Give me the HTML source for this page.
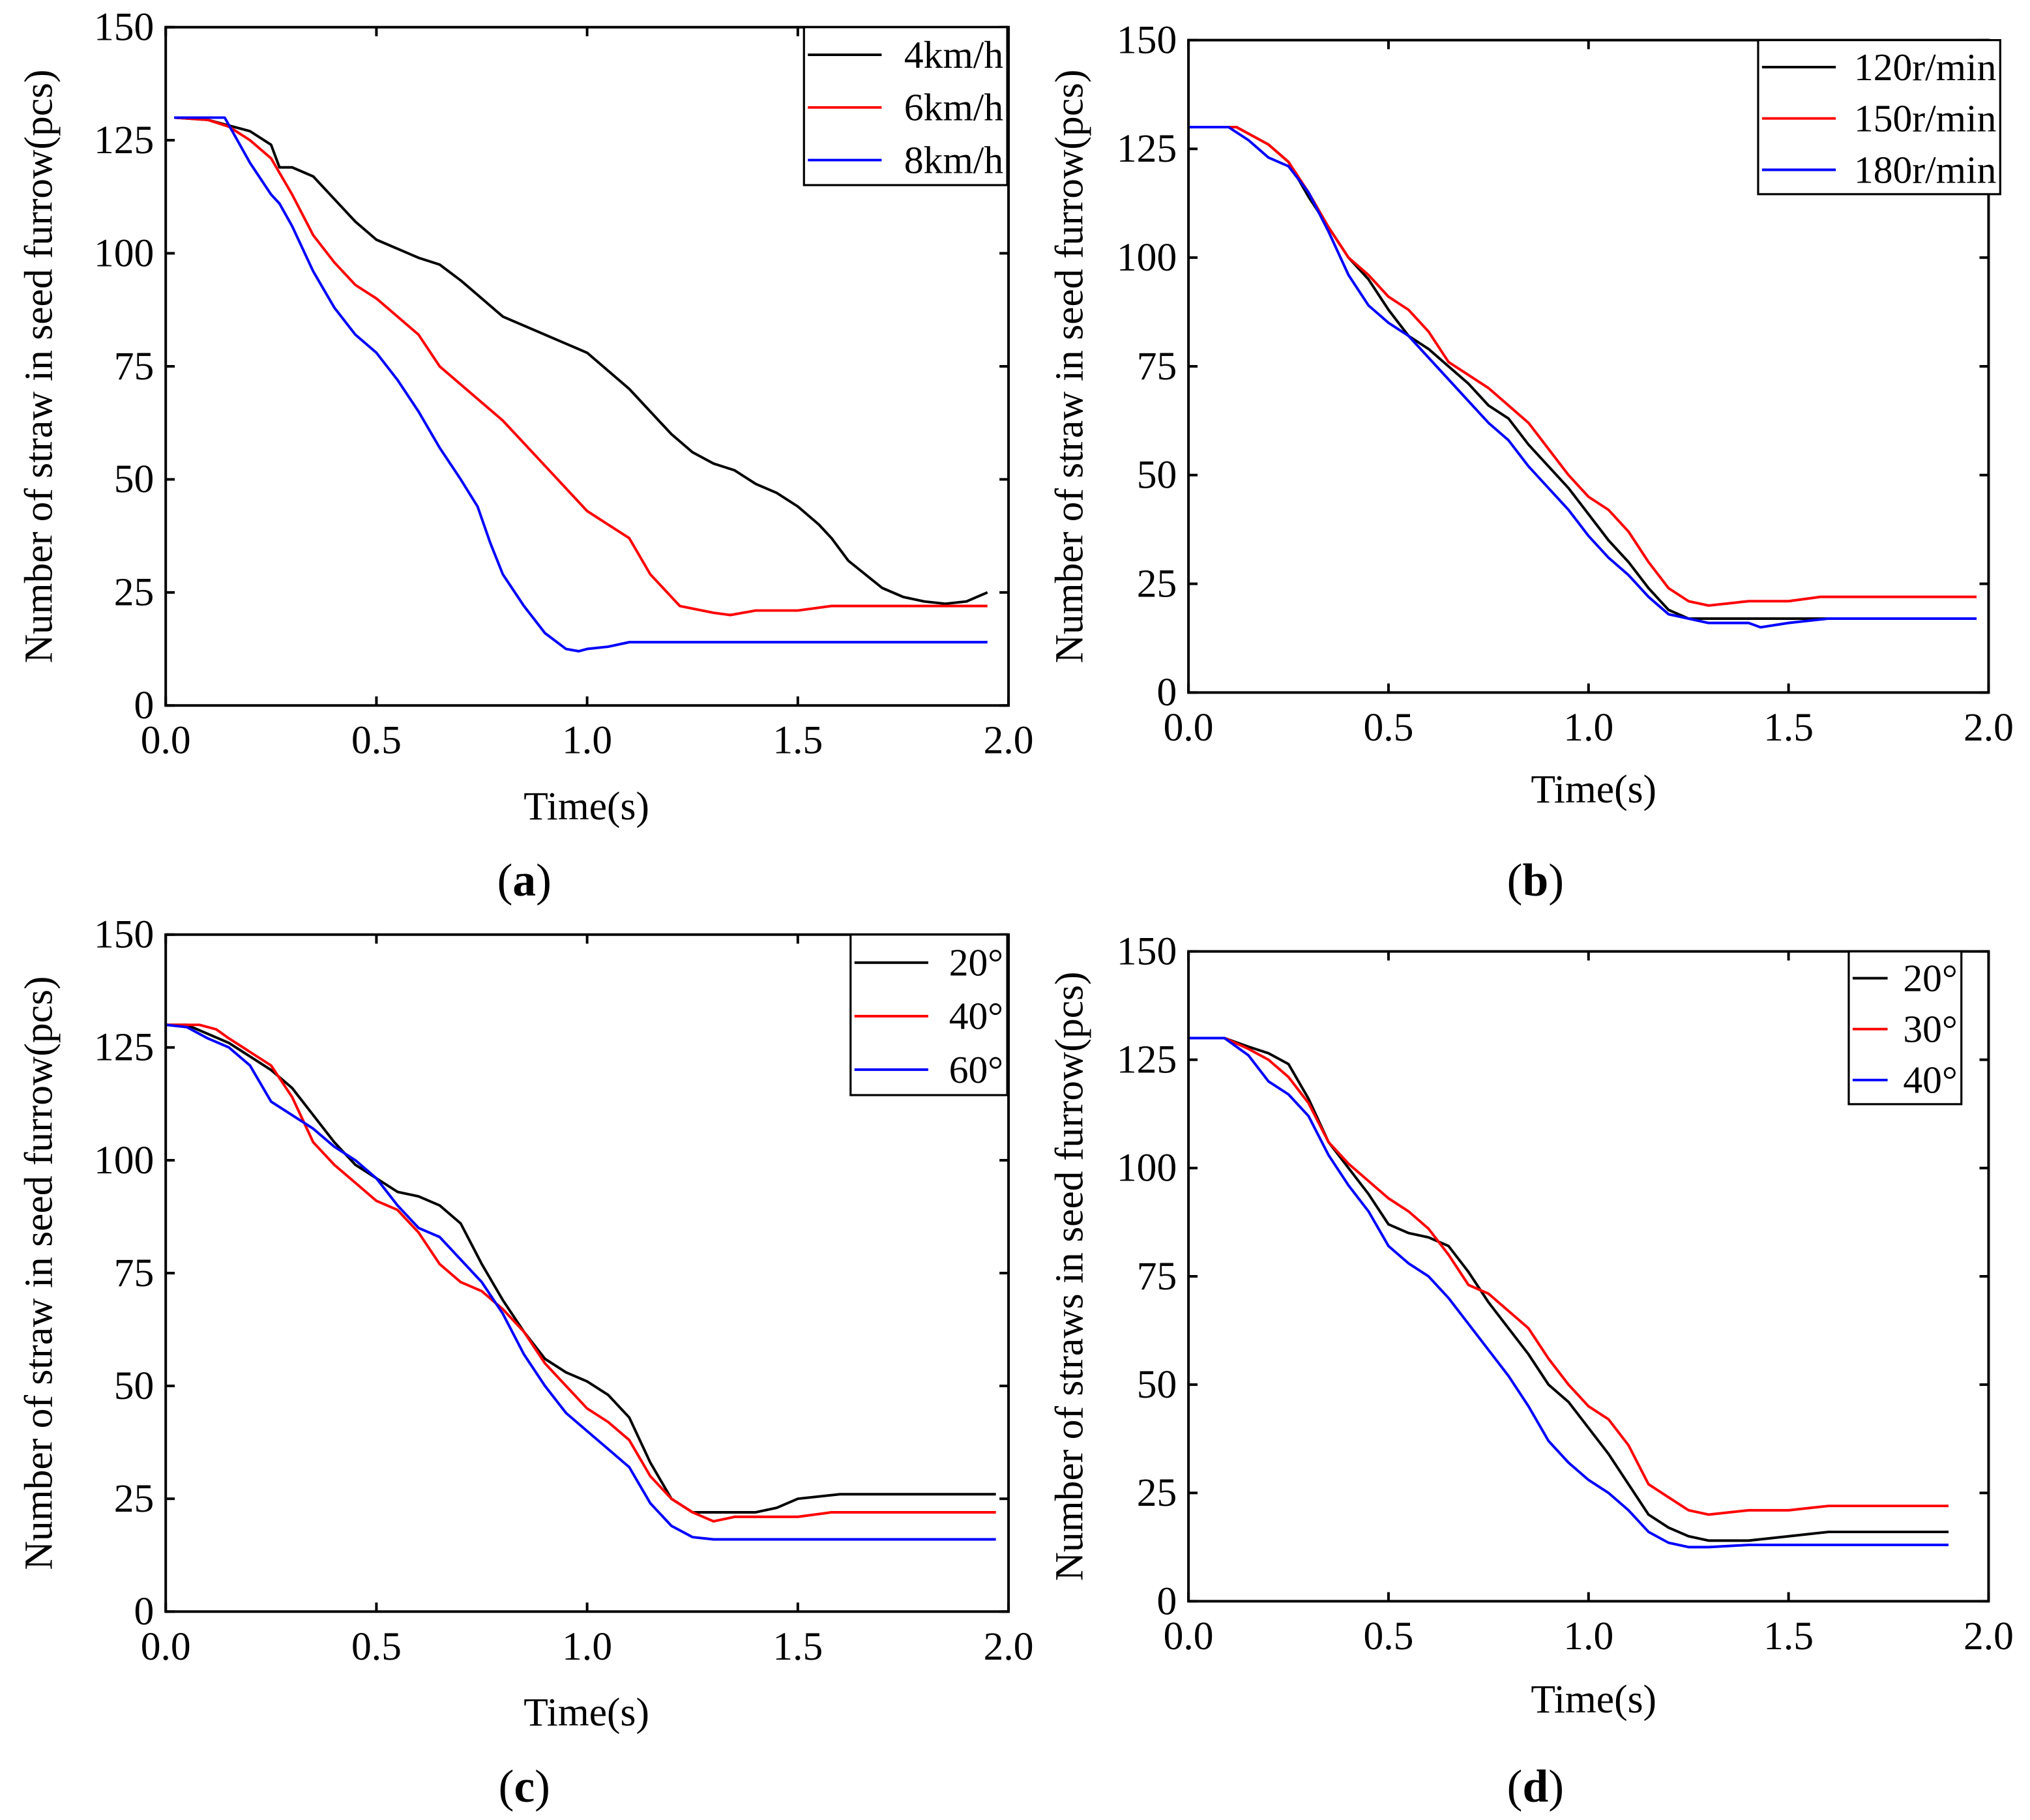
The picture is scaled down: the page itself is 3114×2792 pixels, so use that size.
<!DOCTYPE html>
<html><head><meta charset="utf-8"><style>
html,body{margin:0;padding:0;background:#fff;}
svg{display:block;}
</style></head><body>
<svg id="fig" width="3114" height="2792" viewBox="0 0 1568 1406" preserveAspectRatio="none" xmlns="http://www.w3.org/2000/svg" font-family="'Liberation Serif', 'DejaVu Serif', serif"></svg>
<script>
// ---- Data (time s, count pcs) ----
const xTicks = [0.0, 0.5, 1.0, 1.5, 2.0];
const yTicks = [0, 25, 50, 75, 100, 125, 150];

const a4kmh = [[0.02,130],[0.1,129.5],[0.2,127],[0.25,124],[0.27,119],[0.3,119],[0.35,117],[0.4,112],[0.45,107],[0.5,103],[0.55,101],[0.6,99],[0.65,97.5],[0.7,94],[0.75,90],[0.8,86],[0.85,84],[0.9,82],[0.95,80],[1.0,78],[1.05,74],[1.1,70],[1.15,65],[1.2,60],[1.25,56],[1.3,53.5],[1.35,52],[1.4,49],[1.45,47],[1.5,44],[1.55,40],[1.58,37],[1.62,32],[1.7,26],[1.75,24],[1.8,23],[1.85,22.5],[1.9,23],[1.95,25]];
const a6kmh = [[0.02,130],[0.1,129.5],[0.15,128],[0.2,125],[0.25,121],[0.3,113],[0.35,104],[0.4,98],[0.45,93],[0.5,90],[0.55,86],[0.6,82],[0.65,75],[0.7,71],[0.75,67],[0.8,63],[0.85,58],[0.9,53],[0.95,48],[1.0,43],[1.05,40],[1.1,37],[1.15,29],[1.22,22],[1.3,20.5],[1.34,20],[1.4,21],[1.5,21],[1.58,22],[1.95,22]];
const a8kmh = [[0.02,130],[0.14,130],[0.2,120],[0.25,113],[0.27,111],[0.3,106],[0.35,96],[0.4,88],[0.45,82],[0.5,78],[0.55,72],[0.6,65],[0.65,57],[0.7,50],[0.74,44],[0.77,36],[0.8,29],[0.85,22],[0.9,16],[0.95,12.5],[0.98,12],[1.0,12.5],[1.05,13],[1.1,14],[1.95,14]];

const b120 = [[0,130],[0.12,130],[0.2,126],[0.25,122],[0.3,114],[0.35,107],[0.4,100],[0.45,95],[0.5,88],[0.55,82],[0.6,79],[0.65,75],[0.7,71],[0.75,66],[0.8,63],[0.85,57],[0.9,52],[0.95,47],[1.0,41],[1.05,35],[1.1,30],[1.15,24],[1.2,19],[1.25,17],[1.3,17],[1.5,17],[1.97,17]];
const b150 = [[0,130],[0.12,130],[0.2,126],[0.25,122],[0.3,115],[0.35,107],[0.4,100],[0.45,96],[0.5,91],[0.55,88],[0.6,83],[0.65,76],[0.7,73],[0.75,70],[0.8,66],[0.85,62],[0.9,56],[0.95,50],[1.0,45],[1.05,42],[1.1,37],[1.15,30],[1.2,24],[1.25,21],[1.3,20],[1.35,20.5],[1.4,21],[1.5,21],[1.58,22],[1.97,22]];
const b180 = [[0,130],[0.1,130],[0.15,127],[0.2,123],[0.25,121],[0.3,115],[0.35,106],[0.4,96],[0.45,89],[0.5,85],[0.55,82],[0.6,77],[0.65,72],[0.7,67],[0.75,62],[0.8,58],[0.85,52],[0.9,47],[0.95,42],[1.0,36],[1.05,31],[1.1,27],[1.15,22],[1.2,18],[1.3,16],[1.4,16],[1.43,15],[1.5,16],[1.6,17],[1.97,17]];

const c20 = [[0,130],[0.05,130],[0.1,128],[0.15,126],[0.2,123],[0.25,120],[0.3,116],[0.35,110],[0.4,104],[0.45,99],[0.5,96],[0.55,93],[0.6,92],[0.65,90],[0.7,86],[0.75,77],[0.8,69],[0.85,62],[0.9,56],[0.95,53],[1.0,51],[1.05,48],[1.1,43],[1.15,33],[1.2,25],[1.25,22],[1.3,22],[1.4,22],[1.45,23],[1.5,25],[1.6,26],[1.97,26]];
const c40 = [[0,130],[0.08,130],[0.12,129],[0.15,127],[0.2,124],[0.25,121],[0.3,114],[0.35,104],[0.4,99],[0.45,95],[0.5,91],[0.55,89],[0.6,84],[0.65,77],[0.7,73],[0.75,71],[0.8,67],[0.85,62],[0.9,55],[0.95,50],[1.0,45],[1.05,42],[1.1,38],[1.15,30],[1.2,25],[1.25,22],[1.3,20],[1.35,21],[1.5,21],[1.58,22],[1.97,22]];
const c60 = [[0,130],[0.05,129.5],[0.1,127],[0.15,125],[0.2,121],[0.25,113],[0.3,110],[0.35,107],[0.4,103],[0.45,100],[0.5,96],[0.55,90],[0.6,85],[0.65,83],[0.7,78],[0.75,73],[0.8,66],[0.85,57],[0.9,50],[0.95,44],[1.0,40],[1.05,36],[1.1,32],[1.15,24],[1.2,19],[1.25,16.5],[1.3,16],[1.97,16]];

const d20 = [[0,130],[0.09,130],[0.15,128],[0.2,126.5],[0.25,124],[0.3,116],[0.35,106],[0.4,100],[0.45,94],[0.5,87],[0.55,85],[0.6,84],[0.65,82],[0.7,76],[0.75,69],[0.8,63],[0.85,57],[0.9,50],[0.95,46],[1.0,40],[1.05,34],[1.1,27],[1.15,20],[1.2,17],[1.25,15],[1.3,14],[1.4,14],[1.5,15],[1.55,15.5],[1.6,16],[1.9,16]];
const d30 = [[0,130],[0.09,130],[0.15,127.5],[0.2,125],[0.25,121],[0.3,115],[0.35,106],[0.4,101],[0.45,97],[0.5,93],[0.55,90],[0.6,86],[0.65,80],[0.7,73],[0.75,71],[0.8,67],[0.85,63],[0.9,56],[0.95,50],[1.0,45],[1.05,42],[1.1,36],[1.15,27],[1.2,24],[1.25,21],[1.3,20],[1.4,21],[1.5,21],[1.55,21.5],[1.6,22],[1.9,22]];
const d40 = [[0,130],[0.09,130],[0.15,126],[0.2,120],[0.25,117],[0.3,112],[0.35,103],[0.4,96],[0.45,90],[0.5,82],[0.55,78],[0.6,75],[0.65,70],[0.7,64],[0.75,58],[0.8,52],[0.85,45],[0.9,37],[0.95,32],[1.0,28],[1.05,25],[1.1,21],[1.15,16],[1.2,13.5],[1.25,12.5],[1.3,12.5],[1.4,13],[1.9,13]];

const aLabels = ["4km/h","6km/h","8km/h"];
const bLabels = ["120r/min","150r/min","180r/min"];
const cLabels = ["20°","40°","60°"];
const dLabels = ["20°","30°","40°"];
const colors = ["#000000","#ff0000","#0000ff"];

const NS = "http://www.w3.org/2000/svg";
const svg = document.getElementById('fig');
function mk(tag, attrs, parent){
  const e = document.createElementNS(NS, tag);
  for (const k in attrs) e.setAttribute(k, attrs[k]);
  (parent||svg).appendChild(e);
  return e;
}

const panels = [
  {id:'a', x0:128, x1:779, yb:545, yt:21, series:[a4kmh,a6kmh,a8kmh], labels:aLabels, leg:[621,21,778,143], ytitle:"Number of straw in seed furrow(pcs)", ytx:30, tx:453, ty:633, lx:405, ly:692},
  {id:'b', x0:918, x1:1536, yb:535, yt:31, series:[b120,b150,b180], labels:bLabels, leg:[1358,31,1545,150], ytitle:"Number of straw in seed furrow(pcs)", ytx:826, tx:1231, ty:620, lx:1186, ly:692},
  {id:'c', x0:128, x1:779, yb:1245, yt:722, series:[c20,c40,c60], labels:cLabels, leg:[657,722,778,846], ytitle:"Number of straw in seed furrow(pcs)", ytx:30, tx:453, ty:1333, lx:405, ly:1392},
  {id:'d', x0:918, x1:1536, yb:1237, yt:735, series:[d20,d30,d40], labels:dLabels, leg:[1428,735,1515,853], ytitle:"Number of straws in seed furrow(pcs)", ytx:826, tx:1231, ty:1323, lx:1186, ly:1392}
];

panels.forEach(p => {
  const g = mk('g', {});
  
  
  const sx = t => p.x0 + (t/2.0)*(p.x1-p.x0);
  const sy = v => p.yb - (v/150)*(p.yb-p.yt);

  p.series.forEach((s, i) => {
    const pts = s.map(d => sx(d[0]).toFixed(2)+','+sy(d[1]).toFixed(2)).join(' ');
    const pl = mk('polyline', {points:pts, fill:'none', stroke:colors[i], 'stroke-width':2, 'stroke-linejoin':'round'}, g);
    
    
  });

  const fr = mk('rect', {x:p.x0, y:p.yt, width:p.x1-p.x0, height:p.yb-p.yt, fill:'none', stroke:'#000', 'stroke-width':2}, g);
  
  

  xTicks.forEach(t => {
    const x = sx(t);
    mk('line', {x1:x, y1:p.yb, x2:x, y2:p.yb-7, stroke:'#000','stroke-width':2}, g);
    mk('line', {x1:x, y1:p.yt, x2:x, y2:p.yt+7, stroke:'#000','stroke-width':2}, g);
    const tx = mk('text', {x:x, y:p.yb+37, 'font-size':31, 'text-anchor':'middle'}, g);
    tx.textContent = t.toFixed(1);
    
    
  });
  yTicks.forEach(v => {
    const y = sy(v);
    mk('line', {x1:p.x0, y1:y, x2:p.x0+7, y2:y, stroke:'#000','stroke-width':2}, g);
    mk('line', {x1:p.x1, y1:y, x2:p.x1-7, y2:y, stroke:'#000','stroke-width':2}, g);
    const tx = mk('text', {x:p.x0-9, y:y+10, 'font-size':31, 'text-anchor':'end'}, g);
    tx.textContent = String(v);
    
    
  });

  const xt = mk('text', {x:p.tx, y:p.ty, 'font-size':31, 'text-anchor':'middle'}, g);
  xt.textContent = 'Time(s)';
  
  
  const cy = (p.yt+p.yb)/2;
  const yt = mk('text', {x:p.ytx, y:cy, 'font-size':31, 'text-anchor':'middle', transform:'rotate(-90 '+p.ytx+' '+cy+')', dy:10}, g);
  yt.textContent = p.ytitle;
  
  

  const pl = mk('text', {x:p.lx, y:p.ly, 'font-size':36, 'text-anchor':'middle'}, g);
  pl.innerHTML = '(<tspan font-weight="bold">'+p.id+'</tspan>)';
  
  

  const [lx0, ly0, lx1, ly1] = p.leg;
  const lg = mk('g', {}, g);
  
  
  mk('rect', {x:lx0, y:ly0, width:lx1-lx0, height:ly1-ly0, fill:'#fff', stroke:'#000','stroke-width':1.6}, lg);
  const rowH = (ly1-ly0)/3;
  p.labels.forEach((lab, i) => {
    const ry = ly0 + rowH*(i+0.5) + 1;
    const ent = mk('g', {}, lg);
    
    
    const t = mk('text', {x:lx1-3, y:ry+10, 'font-size':30, 'text-anchor':'end'}, ent);
    t.textContent = lab;
    let w = 60;
    try { w = t.getComputedTextLength(); } catch(e) {}
    const lineEnd = Math.min(lx0 + 60, lx1 - 3 - w - 12);
    mk('line', {x1:lx0+3, y1:ry, x2:lineEnd, y2:ry, stroke:colors[i], 'stroke-width':2}, ent);
  });
});
</script>
</body></html>
